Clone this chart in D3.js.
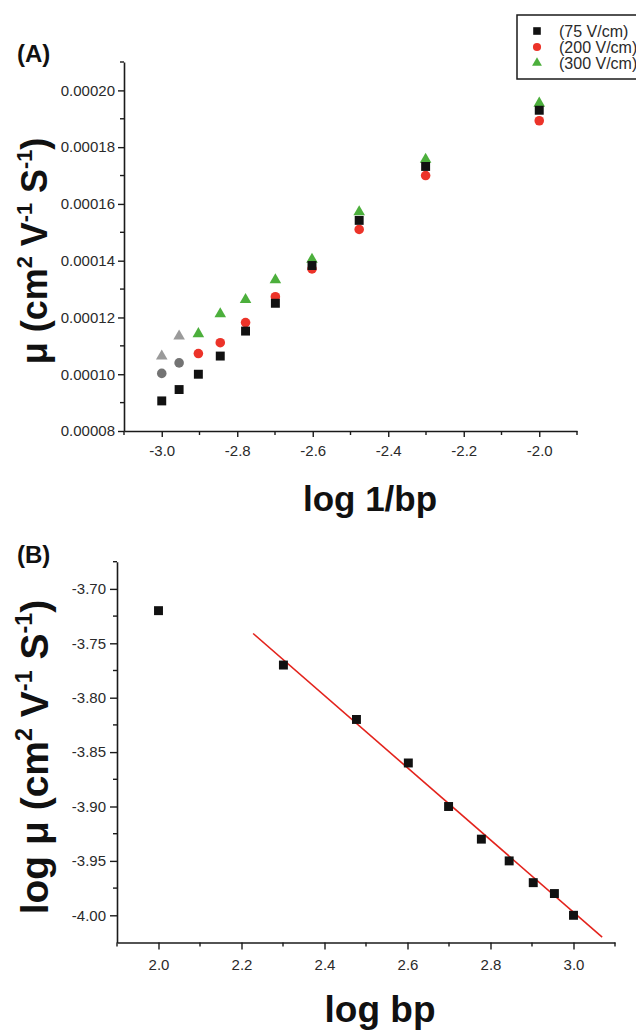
<!DOCTYPE html>
<html>
<head>
<meta charset="utf-8">
<script src="https://cdn.jsdelivr.net/npm/d3@7"></script>
<style>
  html, body { margin: 0; padding: 0; background: #fff; }
  svg { display: block; }
  text { font-family: "Liberation Sans", Arial, sans-serif; }
</style>
</head>
<body>
<svg id="chart" width="636" height="1032"></svg>
<script>
// ---------- DATA ----------
// Panel A: mobility vs log(1/bp)
const logInvBp = [-3.0, -2.954, -2.903, -2.845, -2.778, -2.699, -2.602, -2.477, -2.301, -2.0];
const mu75  = [0.0000906, 0.0000946, 0.0001000, 0.0001064, 0.0001152, 0.0001250, 0.0001383, 0.0001542, 0.0001732, 0.0001930];
const mu200 = [0.0001003, 0.0001040, 0.0001073, 0.0001111, 0.0001182, 0.0001273, 0.0001371, 0.0001510, 0.0001700, 0.0001893];
const mu300 = [0.0001067, 0.0001138, 0.0001146, 0.0001216, 0.0001266, 0.0001336, 0.0001408, 0.0001575, 0.0001760, 0.0001958];
const fadedIdx = [0, 1];              // points drawn in grey for 200 and 300 V/cm
const seriesNames = ["(75 V/cm)", "(200 V/cm)", "(300 V/cm)"];
const yTicksA = [0.00008, 0.00010, 0.00012, 0.00014, 0.00016, 0.00018, 0.00020];
const xTicksA = [-3.0, -2.8, -2.6, -2.4, -2.2, -2.0];

// Panel B: log mobility vs log bp
const logBp = [2.0, 2.301, 2.477, 2.602, 2.699, 2.778, 2.845, 2.903, 2.954, 3.0];
const logMu = [-3.72, -3.77, -3.82, -3.86, -3.90, -3.93, -3.95, -3.97, -3.98, -4.00];
const fitX = [2.228, 3.069];
const fitY = [-3.741, -4.020];
const yTicksB = [-3.70, -3.75, -3.80, -3.85, -3.90, -3.95, -4.00];
const xTicksB = [2.0, 2.2, 2.4, 2.6, 2.8, 3.0];

// ---------- DRAW ----------
const svg = d3.select("#chart");
const AX = "#1a1a1a", TXT = "#2a2a2a";
const C_BLACK = "#111", C_RED = "#ec3329", C_GREEN = "#4caf3c", C_GREY_C = "#737373", C_GREY_T = "#9a9a9a";

function styleAxis(g) {
  g.select(".domain").attr("stroke", AX).attr("stroke-width", 1.6);
  g.selectAll(".tick line").attr("stroke", AX).attr("stroke-width", 1.4);
  g.selectAll(".tick text").attr("fill", TXT).style("font-size", "15px").style("font-family", "Liberation Sans, Arial, sans-serif");
}
function minorTicks(g, scale, values, orient, len) {
  values.forEach(v => {
    const p = scale(v);
    if (orient === "left") g.append("line").attr("x1", 0).attr("x2", -len).attr("y1", p).attr("y2", p);
    else g.append("line").attr("y1", 0).attr("y2", len).attr("x1", p).attr("x2", p);
  });
  g.selectAll("line").attr("stroke", AX).attr("stroke-width", 1.4);
}

// ===== Panel A =====
const xA = d3.scaleLinear().domain([-3.1, -1.9]).range([124, 577]);
const yA = d3.scaleLinear().domain([0.00008, 0.00021]).range([431, 62]);

const gyA = svg.append("g").attr("transform", `translate(${xA.range()[0]},0)`)
  .call(d3.axisLeft(yA).tickValues(yTicksA).tickFormat(d3.format(".5f")).tickSize(6).tickPadding(3).tickSizeOuter(0));
styleAxis(gyA);
const mA = svg.append("g").attr("transform", `translate(${xA.range()[0]},0)`);
minorTicks(mA, yA, [0.00009, 0.00011, 0.00013, 0.00015, 0.00017, 0.00019, 0.00021], "left", 4);

const gxA = svg.append("g").attr("transform", `translate(0,${yA.range()[0]})`)
  .call(d3.axisBottom(xA).tickValues(xTicksA).tickFormat(d3.format(".1f")).tickSize(6).tickPadding(8).tickSizeOuter(0));
styleAxis(gxA);
gxA.selectAll(".tick text").text(d => d3.format(".1f")(d).replace("−", "-"));
const mxA = svg.append("g").attr("transform", `translate(0,${yA.range()[0]})`);
minorTicks(mxA, xA, [-3.1, -2.9, -2.7, -2.5, -2.3, -2.1, -1.9], "bottom", 4);

const symSq = d3.symbol().type(d3.symbolSquare).size(80);
const symCi = d3.symbol().type(d3.symbolCircle).size(72);
const symTr = d3.symbol().type(d3.symbolTriangle).size(58);

const ptsA = svg.append("g");
// 300 V/cm triangles
ptsA.selectAll("path.s300").data(logInvBp).join("path").attr("class", "s300")
  .attr("d", symTr).attr("fill", (d, i) => fadedIdx.includes(i) ? C_GREY_T : C_GREEN)
  .attr("transform", (d, i) => `translate(${xA(d)},${yA(mu300[i]) + 1})`);
// 200 V/cm circles
ptsA.selectAll("path.s200").data(logInvBp).join("path").attr("class", "s200")
  .attr("d", symCi).attr("fill", (d, i) => fadedIdx.includes(i) ? C_GREY_C : C_RED)
  .attr("transform", (d, i) => `translate(${xA(d)},${yA(mu200[i])})`);
// 75 V/cm squares
ptsA.selectAll("path.s75").data(logInvBp).join("path").attr("class", "s75")
  .attr("d", symSq).attr("fill", C_BLACK)
  .attr("transform", (d, i) => `translate(${xA(d)},${yA(mu75[i])})`);

// Legend
const leg = svg.append("g");
leg.append("rect").attr("x", 517).attr("y", 15).attr("width", 140).attr("height", 64)
  .attr("fill", "#fff").attr("stroke", AX).attr("stroke-width", 1.5);
const legSyms = [symSq, symCi, symTr];
const legCols = [C_BLACK, C_RED, C_GREEN];
seriesNames.forEach((name, i) => {
  const cy = 31 + i * 16;
  leg.append("path").attr("d", legSyms[i]).attr("fill", legCols[i])
    .attr("transform", `translate(537,${cy}) scale(0.85)`);
  leg.append("text").attr("x", 559).attr("y", cy + 5.5).attr("fill", TXT)
    .style("font-size", "16px").text(name);
});

// Labels A
svg.append("text").attr("x", 17).attr("y", 62).attr("font-weight", "bold")
  .style("font-size", "24px").attr("fill", "#111").text("(A)");
svg.append("text").attr("x", 370).attr("y", 511).attr("text-anchor", "middle")
  .attr("font-weight", "bold").style("font-size", "35px").attr("fill", "#111").text("log 1/bp");

function muLabel(sel, prefix, F) {
  const up = -0.42 * F, sup = 0.6 * F;
  sel.append("tspan").text(prefix + "μ (cm");
  sel.append("tspan").attr("dy", up).style("font-size", sup + "px").text("2");
  sel.append("tspan").attr("dy", -up).text(" V");
  sel.append("tspan").attr("dy", up).style("font-size", sup + "px").text("-1");
  sel.append("tspan").attr("dy", -up).text(" S");
  sel.append("tspan").attr("dy", up).style("font-size", sup + "px").text("-1");
  sel.append("tspan").attr("dy", -up).text(")");
}
const FA = 36;
const yLabA = svg.append("text").attr("transform", "translate(47,251) rotate(-90)")
  .attr("text-anchor", "middle").attr("font-weight", "bold").style("font-size", FA + "px").attr("fill", "#111");
muLabel(yLabA, "", FA);

// ===== Panel B =====
const xB = d3.scaleLinear().domain([1.9, 3.1]).range([117, 615]);
const yB = d3.scaleLinear().domain([-4.025, -3.675]).range([942.5, 561.7]);

const gyB = svg.append("g").attr("transform", `translate(${xB.range()[0]},0)`)
  .call(d3.axisLeft(yB).tickValues(yTicksB).tickFormat(d3.format(".2f")).tickSize(7).tickPadding(4).tickSizeOuter(0));
styleAxis(gyB);
gyB.selectAll(".tick text").text(d => d3.format(".2f")(d).replace("−", "-"));
const myB = svg.append("g").attr("transform", `translate(${xB.range()[0]},0)`);
minorTicks(myB, yB, [-3.675, -3.725, -3.775, -3.825, -3.875, -3.925, -3.975], "left", 4);

const gxB = svg.append("g").attr("transform", `translate(0,${yB.range()[0]})`)
  .call(d3.axisBottom(xB).tickValues(xTicksB).tickFormat(d3.format(".1f")).tickSize(7).tickPadding(10).tickSizeOuter(0));
styleAxis(gxB);
const mxB = svg.append("g").attr("transform", `translate(0,${yB.range()[0]})`);
minorTicks(mxB, xB, [1.9, 2.1, 2.3, 2.5, 2.7, 2.9, 3.1], "bottom", 4);

svg.append("path").datum(fitX.map((x, i) => [x, fitY[i]]))
  .attr("d", d3.line().x(d => xB(d[0])).y(d => yB(d[1])))
  .attr("stroke", "#e3231c").attr("stroke-width", 1.6).attr("fill", "none");

svg.append("g").selectAll("path").data(logBp).join("path")
  .attr("d", symSq).attr("fill", C_BLACK)
  .attr("transform", (d, i) => `translate(${xB(d)},${yB(logMu[i])})`);

svg.append("text").attr("x", 17).attr("y", 563).attr("font-weight", "bold")
  .style("font-size", "24px").attr("fill", "#111").text("(B)");
svg.append("text").attr("x", 380).attr("y", 1022).attr("text-anchor", "middle")
  .attr("font-weight", "bold").style("font-size", "37px").attr("fill", "#111").text("log bp");
const FB = 39;
const yLabB = svg.append("text").attr("transform", "translate(48,757) rotate(-90)")
  .attr("text-anchor", "middle").attr("font-weight", "bold").style("font-size", FB + "px").attr("fill", "#111");
muLabel(yLabB, "log ", FB);
</script>
</body>
</html>
